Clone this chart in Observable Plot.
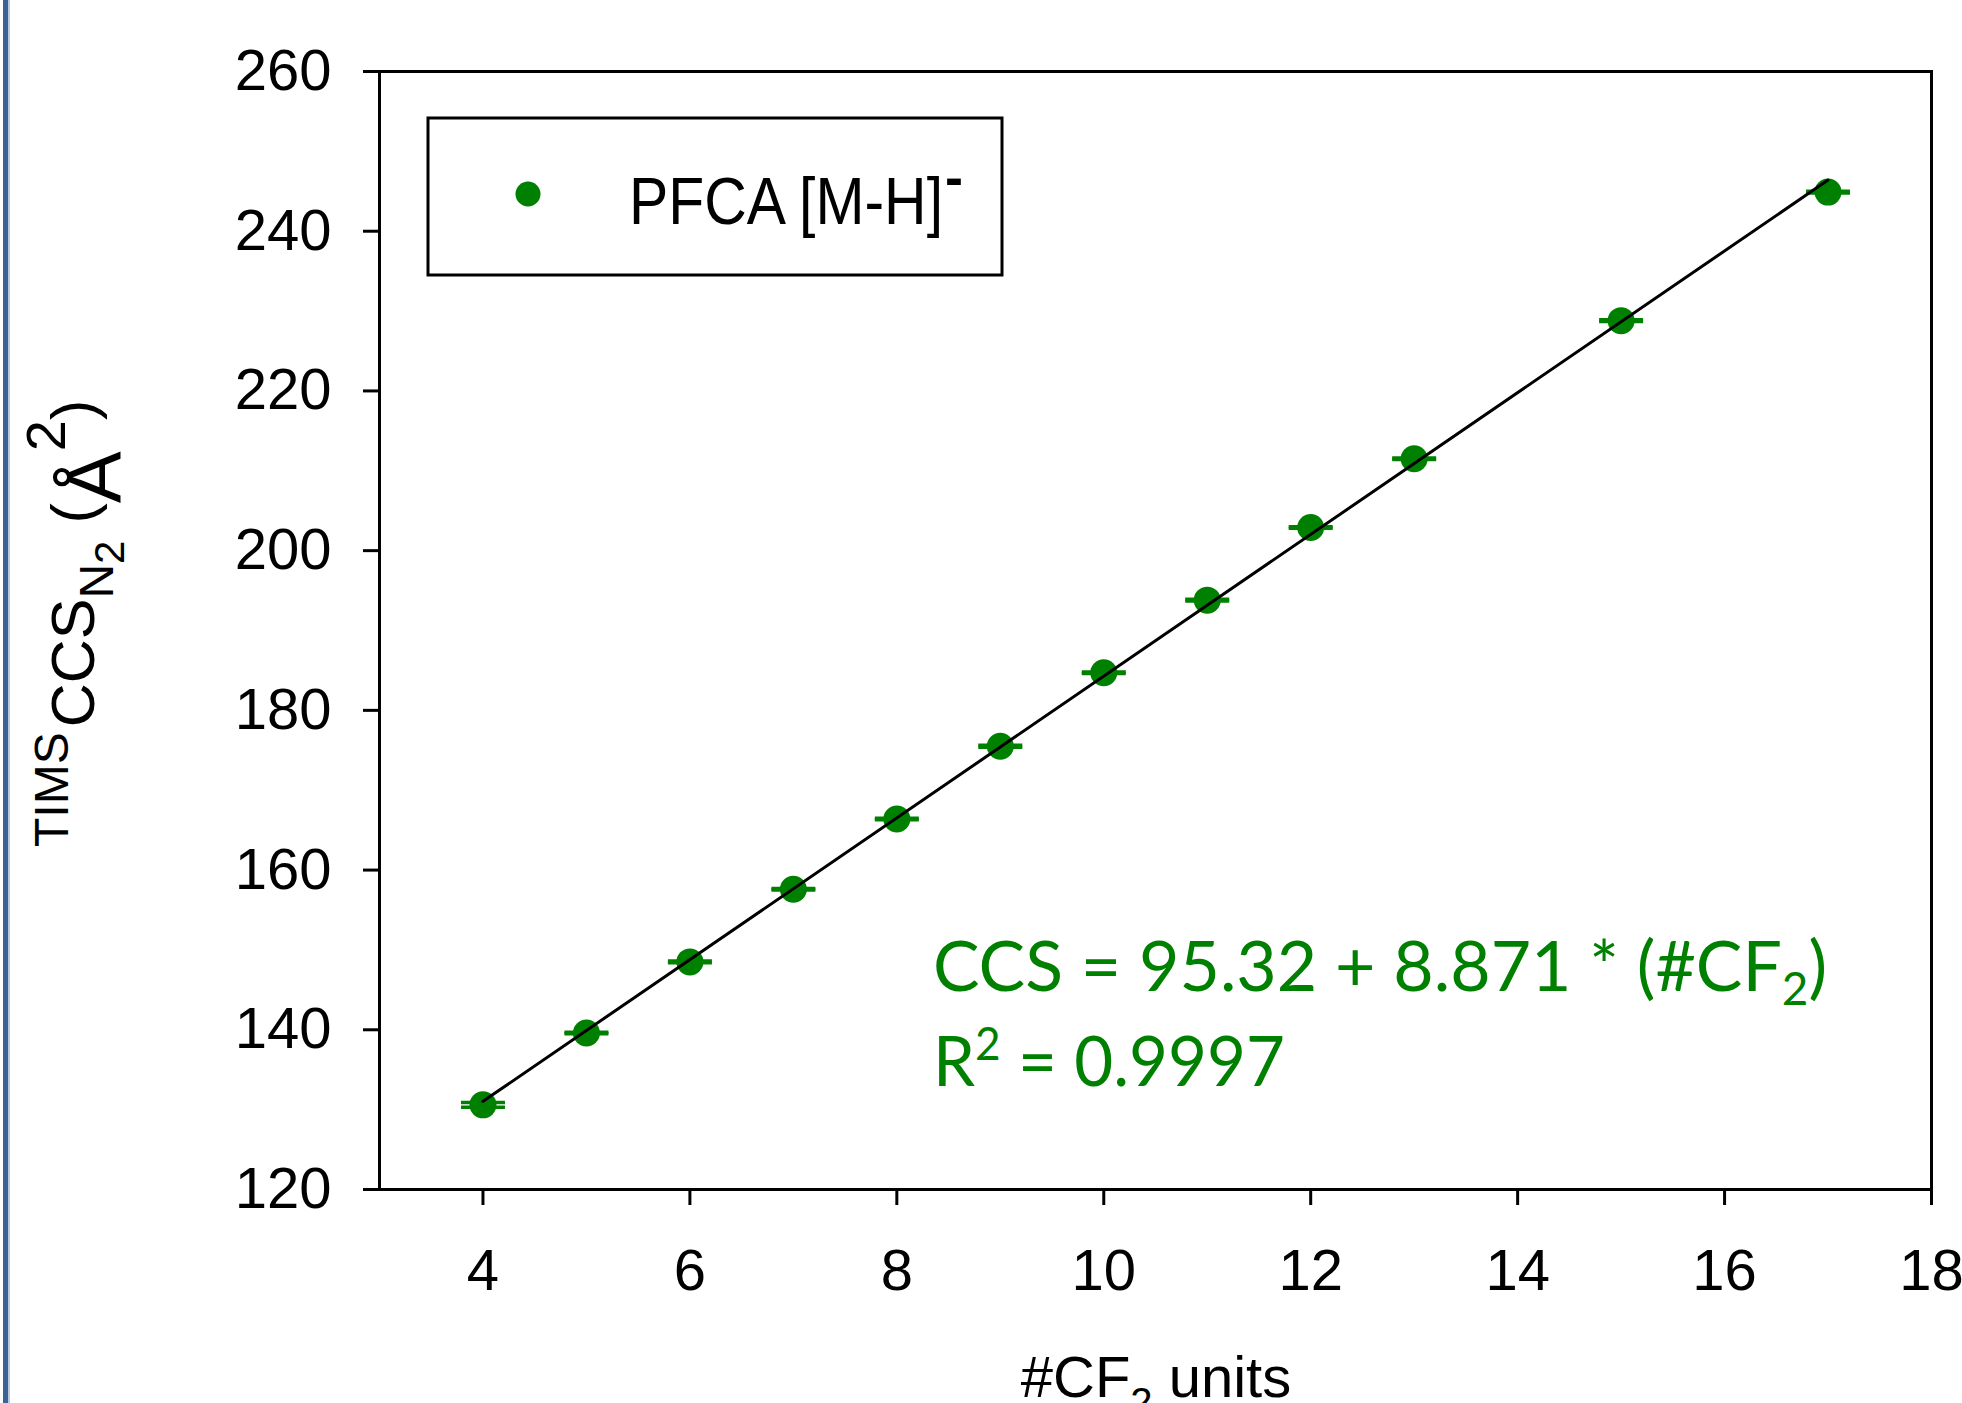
<!DOCTYPE html>
<html><head><meta charset="utf-8">
<script src="https://cdn.jsdelivr.net/npm/d3@7"></script>
<script src="https://cdn.jsdelivr.net/npm/@observablehq/plot@0.6"></script>
<style>
html,body{margin:0;padding:0;background:#fff;}
#chart{position:relative;width:1962px;height:1403px;overflow:hidden;}
</style></head><body><div id="chart"></div>
<script>
// ---- data ----
const cf2Units  = [4, 5, 6, 7, 8, 9, 10, 11, 12, 13, 15, 17];
const ccsValues = [130.6, 139.6, 148.5, 157.6, 166.4, 175.5, 184.7, 193.8, 202.9, 211.5, 228.8, 244.9];
const ccsErrors = [0.3, 0.1, 0.1, 0.1, 0.1, 0.12, 0.1, 0.1, 0.1, 0.1, 0.1, 0.1];
const xTicks = [4, 6, 8, 10, 12, 14, 16, 18];
const yTicks = [120, 140, 160, 180, 200, 220, 240, 260];
const xDomain = [3, 18];
const yDomain = [120, 260];
const seriesName = "PFCA [M-H]";
const seriesCharge = "-";
const eqLine1 = ["CCS = 95.32 + 8.871 * (#CF", "2", ")"];
const eqLine2 = ["R", "2", " = 0.9997"];
const xLabel = ["#CF", "2", " units"];

const GREEN = "#008000";
const rows = cf2Units.map((x, i) => ({x, y: ccsValues[i], err: ccsErrors[i]}));

// horizontal cap symbol for error bars
const capSymbol = {draw(ctx) { ctx.moveTo(-22, 0); ctx.lineTo(22, 0); }};

const plot = Plot.plot({
  width: 1962, height: 1403,
  marginLeft: 379, marginRight: 31, marginTop: 71, marginBottom: 214,
  style: {fontFamily: "'Liberation Sans', Arial, sans-serif", fontSize: "58px", background: "white", color: "black", overflow: "hidden"},
  x: {domain: xDomain, label: null},
  y: {domain: yDomain, label: null},
  marks: [
    Plot.axisX({ticks: xTicks, tickSize: 16, tickPadding: 43, strokeWidth: 3, label: null, tickFormat: d => String(d)}),
    Plot.axisY({ticks: yTicks, tickSize: 16, tickPadding: 32, strokeWidth: 3, label: null, tickFormat: d => String(d)}),
    Plot.dot(rows, {x: "x", y: d => d.y - d.err, symbol: capSymbol, stroke: GREEN, strokeWidth: 3.5, fill: "none"}),
    Plot.dot(rows, {x: "x", y: d => d.y + d.err, symbol: capSymbol, stroke: GREEN, strokeWidth: 3.5, fill: "none"}),
    Plot.dot(rows, {x: "x", y: "y", r: 13.5, fill: GREEN, stroke: null}),
    Plot.linearRegressionY(rows, {x: "x", y: "y", stroke: "black", strokeWidth: 3, ci: 0}),
    Plot.frame({stroke: "black", strokeWidth: 3})
  ]
});
document.getElementById("chart").appendChild(plot);

const svg = d3.select(plot);
const SANS = "'Liberation Sans', Arial, sans-serif";

// left page border line
svg.append("rect").attr("x", 3).attr("y", 0).attr("width", 5).attr("height", 1403).attr("fill", "#3b6394");
svg.append("rect").attr("x", 8).attr("y", 0).attr("width", 2).attr("height", 1403).attr("fill", "#b9c9e0");

// y-axis label (rotated)
const yl = svg.append("text")
  .attr("transform", "translate(94,847) rotate(-90)")
  .attr("text-anchor", "start")
  .attr("font-family", SANS)
  .attr("fill", "black");
yl.append("tspan").attr("font-size", 48).attr("dy", -26).text("TIMS");
yl.append("tspan").attr("font-size", 61).attr("dy", 26).attr("dx", 5).text("CCS");
yl.append("tspan").attr("font-size", 48).attr("dy", 19).text("N");
yl.append("tspan").attr("font-size", 42).attr("dy", 11).text("2");
yl.append("tspan").attr("font-size", 61).attr("dy", -30).text(" (");
yl.append("tspan").attr("font-size", 78).attr("dy", 27).text("Å");
yl.append("tspan").attr("font-size", 56).attr("dy", -56).text("2");
yl.append("tspan").attr("font-size", 61).attr("dy", 29).text(")");

// x-axis label
const xl = svg.append("text")
  .attr("x", 1156).attr("y", 1397).attr("text-anchor", "middle")
  .attr("font-family", SANS)
  .attr("font-size", 58).attr("fill", "black");
xl.append("tspan").text(xLabel[0]);
xl.append("tspan").attr("font-size", 40).attr("dy", 19).text(xLabel[1]);
xl.append("tspan").attr("dy", -19).text(xLabel[2]);

// legend
const lg = svg.append("g").attr("text-anchor", "start");
lg.append("rect").attr("x", 428).attr("y", 118).attr("width", 574).attr("height", 157)
  .attr("fill", "white").attr("stroke", "black").attr("stroke-width", 3);
lg.append("circle").attr("cx", 528).attr("cy", 194).attr("r", 12.5).attr("fill", GREEN);
lg.append("text").attr("x", 629).attr("y", 224).attr("text-anchor", "start")
  .attr("font-family", SANS).attr("font-size", 66)
  .attr("textLength", 314).attr("lengthAdjust", "spacingAndGlyphs")
  .attr("fill", "black").text(seriesName);
lg.append("text").attr("x", 945).attr("y", 196).attr("text-anchor", "start")
  .attr("font-family", SANS).attr("font-size", 54).attr("font-weight", "bold")
  .attr("fill", "black").text(seriesCharge);

// regression equation annotation
const eqFont = "Lato, 'Open Sans', sans-serif";
const e1 = svg.append("text").attr("x", 933).attr("y", 991).attr("text-anchor", "start")
  .attr("font-family", eqFont).attr("font-size", 70).attr("fill", GREEN)
  .attr("textLength", 894).attr("lengthAdjust", "spacingAndGlyphs");
e1.append("tspan").text(eqLine1[0]);
e1.append("tspan").attr("font-size", 46).attr("dy", 14).text(eqLine1[1]);
e1.append("tspan").attr("dy", -14).text(eqLine1[2]);
const e2 = svg.append("text").attr("x", 933).attr("y", 1086).attr("text-anchor", "start")
  .attr("font-family", eqFont).attr("font-size", 70).attr("fill", GREEN)
  .attr("textLength", 352).attr("lengthAdjust", "spacingAndGlyphs");
e2.append("tspan").text(eqLine2[0]);
e2.append("tspan").attr("font-size", 46).attr("dy", -26).text(eqLine2[1]);
e2.append("tspan").attr("dy", 26).text(eqLine2[2]);
</script>
</body></html>
